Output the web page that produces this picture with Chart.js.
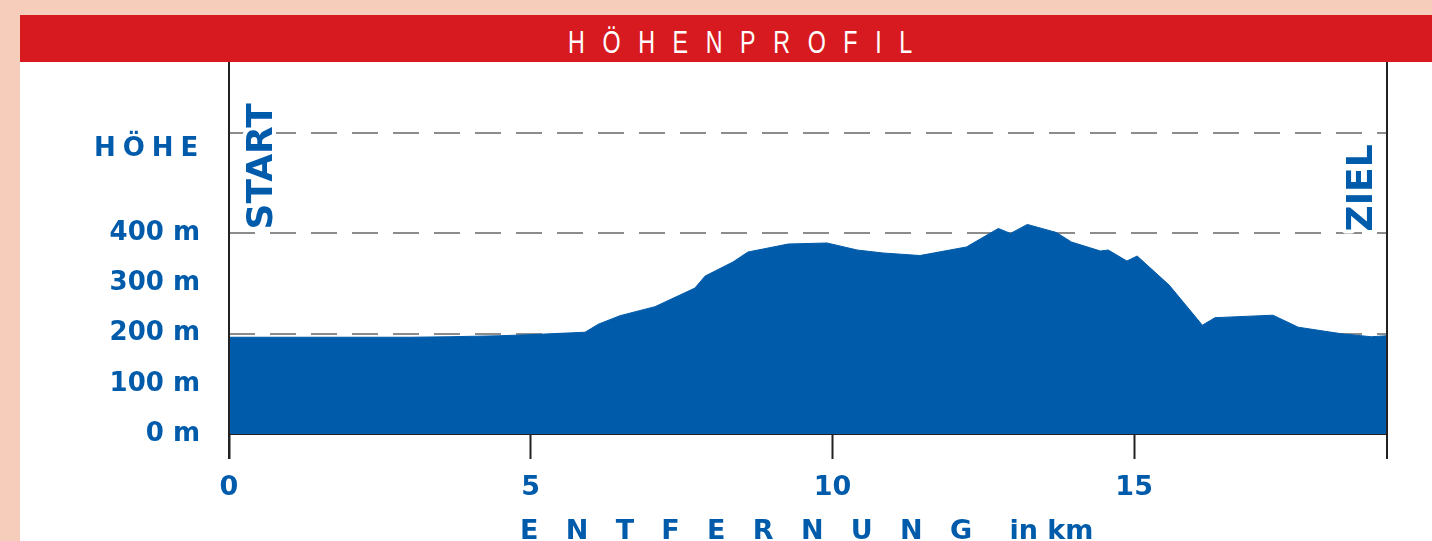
<!DOCTYPE html>
<html>
<head>
  <title>Höhenprofil</title>
  <script src="https://cdn.jsdelivr.net/npm/chart.js"></script>
  <style>
    body {
      margin: 0;
      width: 1432px;
      height: 541px;
      overflow: hidden;
      background: #f6ccba;
      position: relative;
    }
    .header {
      position: absolute;
      left: 20px;
      top: 15px;
      width: 1412px;
      height: 47px;
      background: #d71a20;
    }
    .header span {
      position: absolute;
      left: 548px;
      top: 12px;
      font-family: "Liberation Sans", Arial, sans-serif;
      font-size: 31px;
      line-height: 31px;
      color: #fff;
      letter-spacing: 23.5px;
      white-space: nowrap;
      transform: scaleX(0.75);
      transform-origin: left top;
    }
    .panel {
      position: absolute;
      left: 20px;
      top: 62px;
      width: 1412px;
      height: 479px;
      background: #fff;
    }
  </style>
</head>
<body>
  <div class="header"><span>HÖHENPROFIL</span></div>
  <div class="panel">
    <canvas id="profil" width="1412" height="479"></canvas>
  </div>

  <script>
    // Strecke in km und Höhe in m
    const distanceKm = [0, 1.5, 3.0, 3.66, 4.49, 4.97, 5.90, 6.12, 6.48, 7.06, 7.72, 7.89, 8.35, 8.60,
      9.27, 9.91, 10.41, 10.84, 11.45, 12.22, 12.75, 12.95, 13.23, 13.71, 13.96, 14.44, 14.57,
      14.88, 15.05, 15.58, 16.13, 16.34, 17.30, 17.72, 18.43, 18.93, 19.19];
    const elevationM = [193, 193, 193, 194, 196, 198, 203, 219, 236, 254, 291, 315, 343, 363,
      379, 381, 367, 361, 356, 373, 410, 400, 418, 402, 383, 365, 367,
      345, 355, 297, 217, 232, 237, 213, 200, 194, 196];

    const xTicks = [0, 5, 10, 15];
    const yTicks = [0, 100, 200, 300, 400, 500, 600];
    const yLabelled = [0, 100, 200, 300, 400];
    const yDashed = [200, 400, 600];

    const BLUE = '#005baa';
    const DARK = '#222';

    function drawVertical(ctx, text, x, y, size) {
      ctx.save();
      ctx.translate(x, y);
      ctx.rotate(-Math.PI / 2);
      ctx.font = 'bold ' + size + 'px "DejaVu Sans"';
      ctx.textAlign = 'left';
      ctx.textBaseline = 'alphabetic';
      ctx.lineJoin = 'round';
      ctx.strokeStyle = '#fff';
      ctx.lineWidth = 8;
      ctx.strokeText(text, 0, 0);
      ctx.fillStyle = BLUE;
      ctx.fillText(text, 0, 0);
      ctx.restore();
    }

    function drawSpaced(ctx, text, x, y, gap) {
      for (const ch of text) {
        ctx.fillText(ch, x, y);
        x += ctx.measureText(ch).width + gap;
      }
      return x;
    }

    const extras = {
      id: 'extras',
      afterDraw(chart) {
        const ctx = chart.ctx;
        const area = chart.chartArea;
        const ys = chart.scales.y;

        // Rahmenlinien links und rechts
        ctx.save();
        ctx.strokeStyle = DARK;
        ctx.lineWidth = 2;
        ctx.beginPath();
        ctx.moveTo(area.left, area.top);
        ctx.lineTo(area.left, area.bottom + 25);
        ctx.moveTo(area.right, area.top);
        ctx.lineTo(area.right, area.bottom + 25);
        ctx.stroke();
        ctx.restore();

        // START / ZIEL
        const y400 = ys.getPixelForValue(400);
        drawVertical(ctx, 'START', area.left + 43, y400 - 4, 36);
        drawVertical(ctx, 'ZIEL', area.right - 15, y400 - 2, 36);

        // HÖHE
        ctx.save();
        ctx.fillStyle = BLUE;
        ctx.font = 'bold 26px "DejaVu Sans"';
        ctx.textBaseline = 'alphabetic';
        drawSpaced(ctx, 'HÖHE', 74, 94, 7);

        // Achsentitel
        ctx.font = 'bold 27px "DejaVu Sans"';
        let x = drawSpaced(ctx, 'ENTFERNUNG', 500, 477, 27.3);
        ctx.fillText('in km', x + 10, 477);
        ctx.restore();
      }
    };

    new Chart(document.getElementById('profil'), {
      type: 'line',
      data: {
        datasets: [{
          data: distanceKm.map((d, i) => ({ x: d, y: elevationM[i] })),
          backgroundColor: BLUE,
          borderColor: BLUE,
          borderWidth: 1,
          pointRadius: 0,
          tension: 0,
          fill: 'origin'
        }]
      },
      options: {
        responsive: false,
        animation: false,
        devicePixelRatio: 1,
        layout: { padding: { left: 0, right: 45, top: 0, bottom: 0 } },
        plugins: { legend: { display: false }, tooltip: { enabled: false } },
        scales: {
          x: {
            type: 'linear',
            min: 0,
            max: 19.19,
            z: 1,
            afterBuildTicks: s => { s.ticks = xTicks.map(v => ({ value: v })); },
            afterFit: s => { s.height = 107; s.paddingLeft = 0; s.paddingRight = 0; },
            ticks: {
              color: BLUE,
              padding: 13,
              maxRotation: 0,
              autoSkip: false,
              font: { family: 'DejaVu Sans', size: 27, weight: 'bold' }
            },
            grid: { drawOnChartArea: false, tickLength: 25, tickWidth: 2, tickColor: DARK },
            border: { color: DARK, width: 2 }
          },
          y: {
            type: 'linear',
            min: 0,
            max: 742,
            z: 1,
            afterBuildTicks: s => { s.ticks = yTicks.map(v => ({ value: v })); },
            afterFit: s => { s.width = 209; s.paddingTop = 0; s.paddingBottom = 0; },
            ticks: {
              color: BLUE,
              padding: 29,
              autoSkip: false,
              font: { family: 'DejaVu Sans', size: 26, weight: 'bold' },
              callback: v => yLabelled.includes(v) ? v + ' m' : ''
            },
            grid: {
              drawTicks: false,
              lineWidth: 2,
              color: c => yDashed.includes(c.tick && c.tick.value) ? '#8c8c8c' : 'rgba(0,0,0,0)'
            },
            border: { display: false, dash: [26, 15] }
          }
        }
      },
      plugins: [extras]
    });
  </script>
</body>
</html>
